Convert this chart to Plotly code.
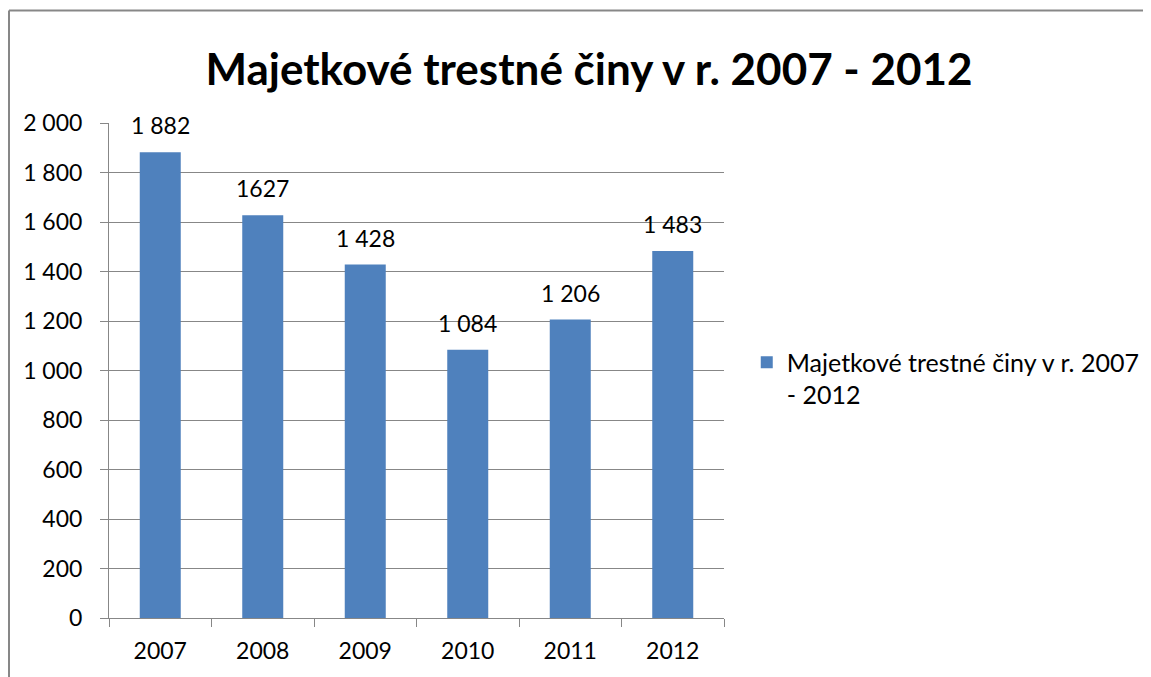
import plotly.graph_objects as go

years = ["2007", "2008", "2009", "2010", "2011", "2012"]
values = [1882, 1627, 1428, 1084, 1206, 1483]
value_labels = ["1 882", "1627", "1 428", "1 084", "1 206", "1 483"]
y_tickvals = [0, 200, 400, 600, 800, 1000, 1200, 1400, 1600, 1800, 2000]
y_ticktext = ["0", "200", "400", "600", "800", "1 000", "1 200", "1 400", "1 600", "1 800", "2 000"]
series_name = "Majetkové trestné činy v r. 2007<br>- 2012"
title_text = "Majetkové trestné činy v r. 2007 - 2012"

FONT = "Lato"
GRAY = "#878787"

fig = go.Figure()
fig.add_trace(go.Bar(
    x=years, y=values, name=series_name,
    marker=dict(color="#4F81BD", line=dict(width=0)),
    showlegend=True,
))

for i, (v, lab) in enumerate(zip(values, value_labels)):
    fig.add_annotation(x=i, y=v, text=lab, showarrow=False,
                       yanchor="bottom", yshift=11,
                       font=dict(family=FONT, size=23, color="#000000"))

# chart frame (left and top edges; the rest lies outside the picture)
fig.add_shape(type="line", xref="paper", yref="paper",
              x0=-0.1626, x1=-0.1626, y0=-0.5, y1=1.2273,
              line=dict(color=GRAY, width=2), layer="below")
fig.add_shape(type="line", xref="paper", yref="paper",
              x0=-0.1626, x1=3.0, y0=1.2273, y1=1.2273,
              line=dict(color=GRAY, width=2), layer="below")

fig.update_layout(
    width=1143, height=669,
    margin=dict(l=101, r=427, t=115, b=59, autoexpand=False),
    paper_bgcolor="white", plot_bgcolor="white",
    font=dict(family=FONT, size=23, color="#000000"),
    title=dict(text=title_text, x=0.5083, xanchor="center", y=0.9073, yanchor="middle",
               font=dict(family=FONT, size=44, color="#000000", weight="bold")),
    bargap=0.6,
    legend=dict(x=1.037, xanchor="left", y=0.484, yanchor="middle",
                font=dict(family=FONT, size=25), valign="top",
                bgcolor="rgba(0,0,0,0)"),
    modebar=dict(bgcolor="rgba(0,0,0,0)", color="rgba(0,0,0,0)",
                 activecolor="rgba(0,0,0,0)"),
)

fig.update_xaxes(
    type="category", automargin=False, range=[-0.5, 5.5],
    showline=True, linecolor=GRAY, linewidth=1,
    ticks="outside", tickson="boundaries", ticklen=8, tickcolor=GRAY, tickwidth=1,
    showgrid=False, tickfont=dict(family=FONT, size=23), tickangle=0,
    ticklabelstandoff=12,
)
fig.update_yaxes(
    range=[0, 2000], tickvals=y_tickvals, ticktext=y_ticktext, automargin=False,
    showline=True, linecolor=GRAY, linewidth=1,
    ticks="outside", ticklen=8, tickcolor=GRAY, tickwidth=1,
    showgrid=True, gridcolor=GRAY, gridwidth=1,
    tickfont=dict(family=FONT, size=23), ticklabelstandoff=13,
    zeroline=False,
)

fig.write_html("out.html")
